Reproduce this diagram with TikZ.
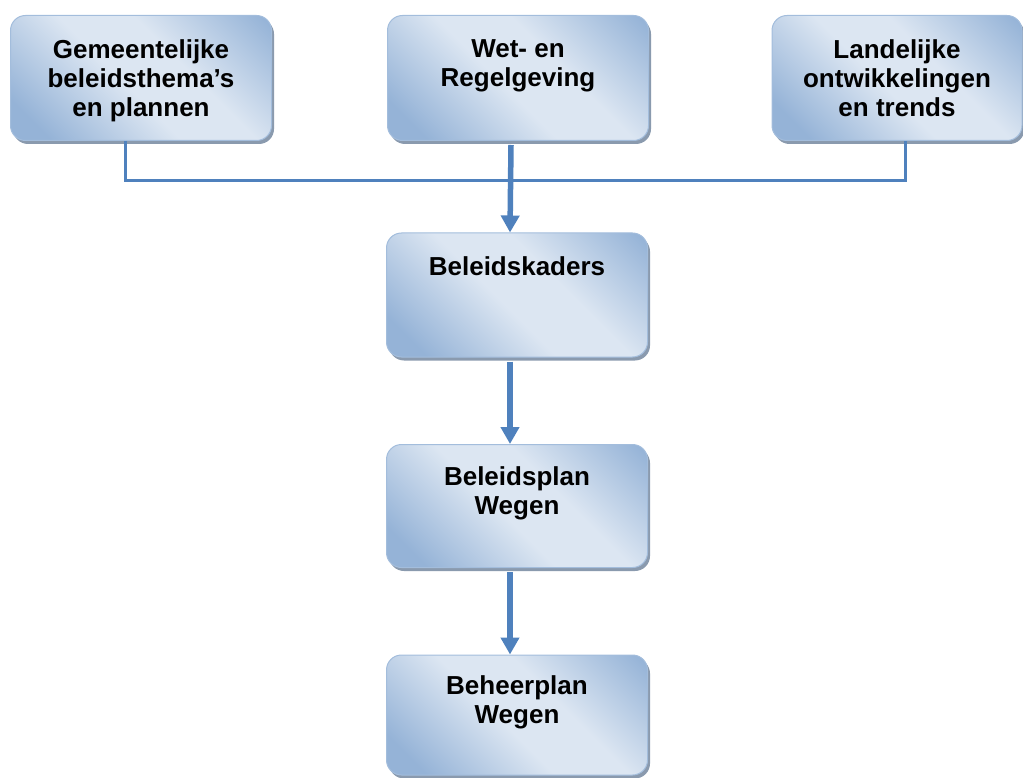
\documentclass[tikz,border=0pt]{standalone}
\usepackage{fontspec}
\setmainfont{Liberation Sans}
\usetikzlibrary{positioning, arrows.meta, shadows}

\definecolor{linkblue}{HTML}{4F81BD}
\definecolor{boxlight}{HTML}{DCE6F2}
\definecolor{boxdark}{HTML}{95B3D7}
\definecolor{boxedge}{HTML}{A3BDDC}
\definecolor{boxshadow}{HTML}{8A9AAE}
\pgfdeclarehorizontalshading{boxfade}{100bp}{color(0bp)=(boxdark); color(22bp)=(boxdark);
  color(46bp)=(boxlight); color(60bp)=(boxlight); color(84bp)=(boxdark); color(100bp)=(boxdark)}

\begin{document}
\begin{tikzpicture}[
  x=1pt, y=1pt,
  box/.style={draw=boxedge, line width=1pt, rounded corners=15pt, shading=boxfade,
              shading angle=45, minimum width=261pt, minimum height=125pt, inner sep=0pt,
              drop shadow={shadow xshift=2.5pt, shadow yshift=-3.5pt, fill=boxshadow, opacity=1}},
  lbl/.style={font=\fontsize{26}{29}\selectfont\bfseries, align=center, inner sep=0pt},
  bus/.style={draw=linkblue, line width=3pt},
  flow/.style={draw=linkblue, line width=5.5pt, -{Triangle[width=18pt,length=17pt]}}
]
\useasboundingbox (0,0) rectangle (1023,-778);

% bronnen
\node[box] (gem)  at (141,-78) {};
\node[box] (wet)  at (518,-78) {};
\node[box, minimum width=250pt] (land) at (897,-78) {};
\node[lbl, below=24pt of gem.north]  {Gemeentelijke\\beleidsthema’s\\en plannen};
\node[lbl, below=24pt of wet.north]  {Wet- en\\Regelgeving};
\node[lbl, below=24pt of land.north] {Landelijke\\ontwikkelingen\\en trends};

% keten
\node[box, minimum height=124pt] (kader)  at (517,-295) {};
\node[box, minimum height=123pt] (plan)   at (517,-506) {};
\node[box, minimum height=120pt] (beheer) at (517,-715) {};
\node[lbl, below=24pt of kader.north]  {Beleidskaders};
\node[lbl, below=22pt of plan.north]   {Beleidsplan\\Wegen};
\node[lbl, below=21pt of beheer.north] {Beheerplan\\Wegen};

\draw[bus] ([xshift=-16pt]gem.south) -- ++(0,-40) -| ([xshift=8pt]land.south);

\foreach \a/\b in {wet/kader, kader/plan, plan/beheer}
  \draw[flow] ([xshift=-7pt,yshift=-4pt]\a.south) -- ([xshift=-7pt]\b.north);

\end{tikzpicture}
\end{document}
